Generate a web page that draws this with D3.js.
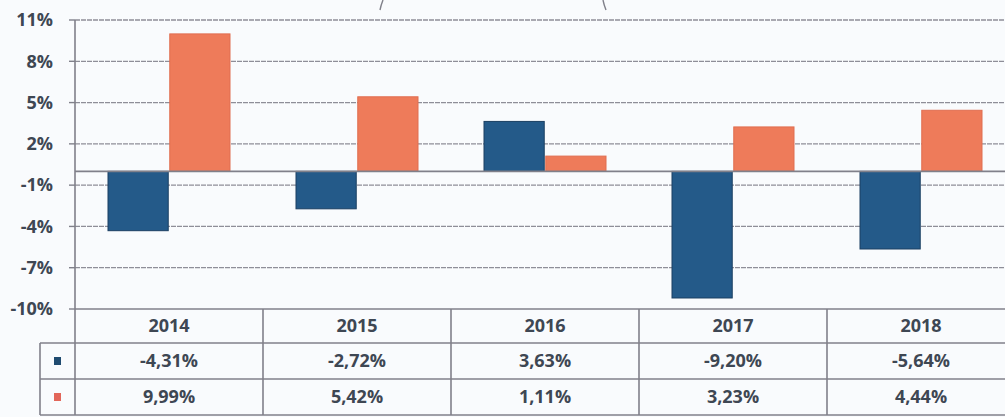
<!DOCTYPE html>
<html>
<head>
<meta charset="utf-8">
<script src="https://cdn.jsdelivr.net/npm/d3@7"></script>
<style>
  html, body { margin: 0; padding: 0; background: #f9fbfd; }
  svg { display: block; }
  text { font-family: "Open Sans", Lato, sans-serif; font-weight: bold; }
</style>
</head>
<body>
<svg id="chart" width="1005" height="417"></svg>
<script>
// Chart data
const years = ["2014", "2015", "2016", "2017", "2018"];
const seriesBlue = [-4.31, -2.72, 3.63, -9.20, -5.64];
const seriesOrange = [9.99, 5.42, 1.11, 3.23, 4.44];
const yTicks = [11, 8, 5, 2, -1, -4, -7, -10];

const colors = { blue: "#245a89", orange: "#ee7b5a" };

const svg = d3.select("#chart");

// Layout
const plotLeft = 75, plotRight = 1015;
const plotTop = 20, plotBottom = 309;
const rowLines = [309, 343, 379, 415];
const legendLeft = 40;

const x = d3.scaleBand().domain(years).range([plotLeft, plotRight]);
const xSub = d3.scaleBand().domain(["blue", "orange"])
    .range([33, x.bandwidth() - 33]).paddingInner(0.025);
const y = d3.scaleLinear().domain([-10, 11]).range([plotBottom, plotTop]);

// comma decimals and a plain hyphen for negatives
const fmt = v => d3.format(".2f")(v).replace("−", "-").replace(".", ",") + "%";

// Gridlines
svg.append("g")
    .selectAll("line")
    .data(yTicks.filter(t => t !== -10))
    .join("line")
        .attr("x1", plotLeft).attr("x2", plotRight)
        .attr("y1", d => y(d)).attr("y2", d => y(d))
        .attr("stroke", "#8e8e98")
        .attr("stroke-width", 1.3)
        .attr("stroke-dasharray", "5,1");

// Bars
const groups = svg.append("g")
    .selectAll("g")
    .data(years.map((yr, i) => ({ yr, blue: seriesBlue[i], orange: seriesOrange[i] })))
    .join("g")
        .attr("transform", d => `translate(${x(d.yr)},0)`);

groups.selectAll("rect")
    .data(d => [{ k: "blue", v: d.blue }, { k: "orange", v: d.orange }])
    .join("rect")
        .attr("x", d => xSub(d.k))
        .attr("width", xSub.bandwidth())
        .attr("y", d => y(Math.max(0, d.v)))
        .attr("height", d => Math.abs(y(d.v) - y(0)))
        .attr("fill", d => colors[d.k])
        .attr("stroke", d => d.k === "blue" ? "#1b3f62" : "#e06e50")
        .attr("stroke-width", 1);

// Zero line
svg.append("line")
    .attr("x1", plotLeft).attr("x2", plotRight)
    .attr("y1", y(0)).attr("y2", y(0))
    .attr("stroke", "#80808a")
    .attr("stroke-width", 1.6);

// Y axis
const yAxis = svg.append("g");
yAxis.append("line")
    .attr("x1", plotLeft).attr("x2", plotLeft)
    .attr("y1", plotTop).attr("y2", rowLines[3])
    .attr("stroke", "#80808a").attr("stroke-width", 1.6);
yAxis.selectAll("line.tick")
    .data(yTicks)
    .join("line")
        .attr("class", "tick")
        .attr("x1", plotLeft - 6).attr("x2", plotLeft)
        .attr("y1", d => y(d)).attr("y2", d => y(d))
        .attr("stroke", "#80808a").attr("stroke-width", 1.4);
yAxis.selectAll("text")
    .data(yTicks)
    .join("text")
        .attr("x", 53)
        .attr("y", d => y(d))
        .attr("dy", "0.35em")
        .attr("text-anchor", "end")
        .attr("font-size", 18)
        .attr("fill", "#3e4753")
        .text(d => d + "%");

// Data table
const table = svg.append("g")
    .attr("stroke", "#80808a").attr("stroke-width", 1.6);
rowLines.forEach((ry, i) => {
    table.append("line")
        .attr("x1", i === 0 ? plotLeft : legendLeft).attr("x2", plotRight)
        .attr("y1", ry).attr("y2", ry);
});
table.append("line")
    .attr("x1", legendLeft).attr("x2", legendLeft)
    .attr("y1", rowLines[1]).attr("y2", rowLines[3]);
years.slice(1).forEach(yr => {
    table.append("line")
        .attr("x1", x(yr)).attr("x2", x(yr))
        .attr("y1", rowLines[0]).attr("y2", rowLines[3]);
});

const rowMid = i => (rowLines[i] + rowLines[i + 1]) / 2;
const tableText = svg.append("g")
    .attr("text-anchor", "middle")
    .attr("font-size", 18)
    .attr("fill", "#3e4753");

tableText.selectAll("text.year")
    .data(years)
    .join("text")
        .attr("class", "year")
        .attr("x", d => x(d) + x.bandwidth() / 2)
        .attr("y", rowMid(0))
        .attr("dy", "0.35em")
        .text(d => d);

[seriesBlue, seriesOrange].forEach((series, r) => {
    tableText.selectAll(`text.v${r}`)
        .data(series)
        .join("text")
            .attr("class", `v${r}`)
            .attr("x", (d, i) => x(years[i]) + x.bandwidth() / 2)
            .attr("y", rowMid(r + 1))
            .attr("dy", "0.35em")
            .text(fmt);
});

// Legend keys
svg.selectAll("rect.key")
    .data(["blue", "orange"])
    .join("rect")
        .attr("class", "key")
        .attr("x", 54).attr("width", 7)
        .attr("y", (d, i) => rowMid(i + 1) - 4).attr("height", 8)
        .attr("fill", d => d === "blue" ? "#1f4b70" : "#e2665a");

// Cut-off frame edges at the top
svg.append("path")
    .attr("d", "M383,0 Q381,5 380,10 M603,0 Q604,5 606,10")
    .attr("fill", "none")
    .attr("stroke", "#80808a")
    .attr("stroke-width", 1.4);
</script>
</body>
</html>
